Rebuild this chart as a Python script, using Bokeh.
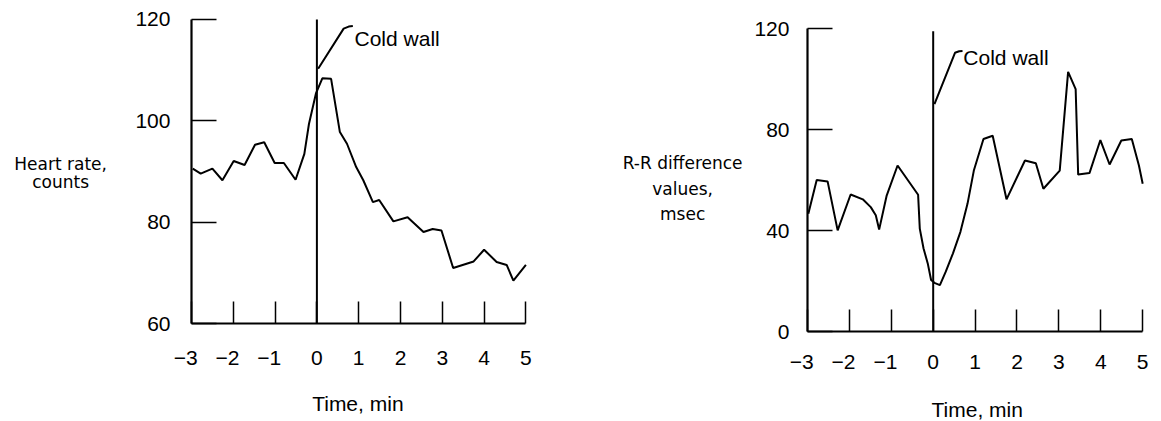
from bokeh.plotting import figure
from bokeh.layouts import row
from bokeh.models import Range1d, LinearAxis, FixedTicker
from bokeh.core.properties import value
from bokeh.embed import file_html
from bokeh.resources import INLINE

# ---------------- data ----------------
hr_time = [-2.97, -2.78, -2.50, -2.26, -1.99, -1.73, -1.48, -1.26, -1.01, -0.79, -0.51, -0.30,
           -0.19, -0.02, 0.13, 0.34, 0.55, 0.72, 0.94, 1.11, 1.34, 1.49, 1.83, 2.17, 2.55,
           2.77, 2.98, 3.26, 3.75, 4.00, 4.30, 4.54, 4.70, 5.00]
hr_values = [90.6, 89.6, 90.6, 88.3, 92.1, 91.3, 95.3, 95.8, 91.7, 91.7, 88.4, 93.5,
             99.4, 105.5, 108.4, 108.3, 97.8, 95.5, 90.9, 88.3, 84.0, 84.4, 80.2, 81.0, 78.1,
             78.7, 78.4, 71.0, 72.3, 74.6, 72.2, 71.6, 68.5, 71.6]

rr_time = [-2.98, -2.78, -2.52, -2.28, -1.97, -1.68, -1.49, -1.37, -1.29, -1.11, -0.85, -0.36,
           -0.32, -0.23, -0.13, -0.05, 0.03, 0.16, 0.30, 0.47, 0.65, 0.82, 0.97, 1.20, 1.42,
           1.75, 2.19, 2.45, 2.63, 3.02, 3.22, 3.40, 3.46, 3.73, 3.99, 4.21, 4.49, 4.74, 4.91, 5.00]
rr_values = [46.7, 60.1, 59.5, 40.1, 54.3, 52.4, 49.3, 46.1, 40.4, 53.9, 65.8, 54.2,
             40.8, 32.9, 27.0, 20.4, 19.3, 18.4, 23.7, 30.9, 39.5, 50.7, 63.8, 76.3, 77.6,
             52.4, 67.8, 66.7, 56.6, 63.8, 102.9, 96.1, 62.2, 62.8, 75.9, 66.2, 75.7, 76.3, 65.8, 58.6]

time_ticks = [-3, -2, -1, 0, 1, 2, 3, 4, 5]
time_tick_labels = ["\u22123\u2007", "\u22122\u2007", "\u22121\u2007", "0", "1", "2", "3", "4", "5"]
hr_ticks = [60, 80, 100, 120]
rr_ticks = [0, 40, 80, 120]

event_time = 0
hr_event_span = [60, 120]
rr_event_span = [0, 119]

hr_leader_x = [0.03, 0.64, 0.76, 0.86]
hr_leader_y = [110.3, 118.2, 118.6, 118.7]
rr_leader_x = [0.03, 0.52, 0.62, 0.70]
rr_leader_y = [90.1, 110.5, 111.1, 111.2]

hr_title_lines = ["Heart rate,", "counts"]
rr_title_lines = ["R-R difference", "values,", "msec"]
x_title = "Time, min"
event_label = "Cold wall"

TICK_FONT = "Liberation Sans"
TITLE_FONT = "DejaVu Sans"


def make_chart(width, xr, yr, ybounds, x_at, yticks, xs_off, ys_off):
    p = figure(x_range=Range1d(*xr), y_range=Range1d(*yr), width=width, height=420,
               min_border_left=0, min_border_right=0, min_border_top=0, min_border_bottom=0,
               x_axis_location=None, y_axis_location=None,
               output_backend="svg", toolbar_location=None)
    p.outline_line_color = None
    p.xgrid.grid_line_color = None
    p.ygrid.grid_line_color = None
    p.background_fill_color = "white"
    p.border_fill_color = "white"
    xa = LinearAxis(fixed_location=x_at, bounds=(-3, 5), ticker=FixedTicker(ticks=time_ticks),
                    major_label_overrides={t: s for t, s in zip(time_ticks, time_tick_labels)},
                    major_tick_in=22, major_label_standoff=xs_off)
    ya = LinearAxis(fixed_location=-3, bounds=ybounds, ticker=FixedTicker(ticks=yticks),
                    major_tick_in=25, major_label_standoff=ys_off)
    for ax in (xa, ya):
        ax.axis_line_width = 2.2
        ax.axis_line_color = "black"
        ax.major_tick_line_color = "black"
        ax.major_tick_line_width = 1.5
        ax.major_tick_out = 0
        ax.minor_tick_line_color = None
        ax.major_label_text_font = TICK_FONT
        ax.major_label_text_font_size = "21px"
        ax.major_label_text_color = "black"
    p.add_layout(xa, "below")
    p.add_layout(ya, "left")
    return p


def add_text(p, xs, ys, texts, font, size, align):
    p.text(x=xs, y=ys, text=texts, text_font=value(font), text_font_size=size,
           text_align=align, text_baseline="alphabetic", text_color="black")


# ---------------- left: heart rate ----------------
p1 = make_chart(570, (-7.569, 6.067), (40.935, 123.746), (60, 120), 60, hr_ticks, 22, 21)
p1.line(hr_time, hr_values, line_color="black", line_width=2)
p1.line([event_time, event_time], hr_event_span, line_color="black", line_width=2)
p1.line(hr_leader_x, hr_leader_y, line_color="black", line_width=2)
add_text(p1, [0.90], [116.3], [event_label], TICK_FONT, "21px", "left")
add_text(p1, [-6.13, -6.13], [91.55, 87.92], hr_title_lines, TITLE_FONT, "17px", "center")
add_text(p1, [0.98], [44.23], [x_title], TICK_FONT, "21px", "center")

# ---------------- right: R-R difference ----------------
p2 = make_chart(590, (-8.656, 5.425), (-35.28, 131.22), (0, 120), 0, rr_ticks, 18, 18)
p2.line(rr_time, rr_values, line_color="black", line_width=2)
p2.line([event_time, event_time], rr_event_span, line_color="black", line_width=2)
p2.line(rr_leader_x, rr_leader_y, line_color="black", line_width=2)
add_text(p2, [0.72], [108.8], [event_label], TICK_FONT, "21px", "left")
add_text(p2, [-5.98, -5.98, -5.98], [66.72, 56.57, 46.66], rr_title_lines, TITLE_FONT, "17px", "center")
add_text(p2, [1.05], [-31.0], [x_title], TICK_FONT, "21px", "center")

layout = row(p1, p2)
open("out.html", "w").write(file_html(layout, INLINE))
